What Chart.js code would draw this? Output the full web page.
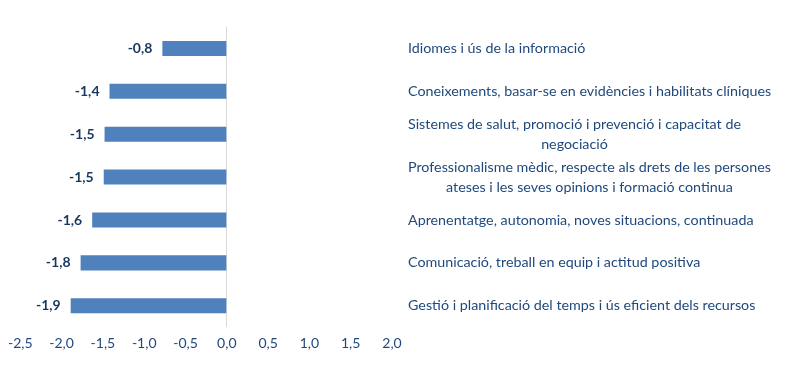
<!DOCTYPE html>
<html>
<head>
<meta charset="utf-8">
<script src="https://cdn.jsdelivr.net/npm/chart.js@4/dist/chart.umd.min.js"></script>
<style>
    body { margin: 0; background: #ffffff; }
    #wrap { width: 797px; height: 386px; }
</style>
</head>
<body>
<div id="wrap"><canvas id="chart" width="797" height="386"></canvas></div>
<script>
// Categories, top to bottom
var categories = [
    ["Idiomes i ús de la informació"],
    ["Coneixements, basar-se en evidències i habilitats clíniques"],
    ["Sistemes de salut, promoció i prevenció i capacitat de", "negociació"],
    ["Professionalisme mèdic, respecte als drets de les persones", "ateses i les seves opinions i formació continua"],
    ["Aprenentatge, autonomia, noves situacions, continuada"],
    ["Comunicació, treball en equip i actitud positiva"],
    ["Gestió i planificació del temps i ús eficient dels recursos"]
];

// Values
var values = [-0.78, -1.42, -1.48, -1.49, -1.63, -1.77, -1.89];

// X axis ticks
var xMin = -2.5;
var xMax = 2.0;
var xStep = 0.5;

var fontFamily = "Lato, 'Open Sans', sans-serif";

function formatComma(v)
{
    return v.toFixed(1).replace('.', ',');
}

// Draw value labels left of each bar
var valueLabels = {
    id: 'valueLabels',
    afterDatasetsDraw: function(chart) {
        var ctx = chart.ctx;
        var meta = chart.getDatasetMeta(0);
        ctx.save();
        ctx.font = "bold 14px " + fontFamily;
        ctx.fillStyle = "#17375e";
        ctx.textAlign = "right";
        ctx.textBaseline = "middle";
        meta.data.forEach(function(bar, i) {
            ctx.fillText(formatComma(values[i]), bar.x - 10, bar.y);
        });
        ctx.restore();
    }
};

// Draw category labels on the right, block left aligned, lines centered
var categoryLabels = {
    id: 'categoryLabels',
    afterDraw: function(chart) {
        var ctx = chart.ctx;
        var yScale = chart.scales.y;
        var left = chart.chartArea.right + 16;
        var lineHeight = 20;
        ctx.save();
        ctx.font = "14.3px " + fontFamily;
        ctx.fillStyle = "#1f497d";
        ctx.textAlign = "center";
        ctx.textBaseline = "middle";
        categories.forEach(function(lines, i) {
            var y = yScale.getPixelForValue(i);
            var widest = 0;
            lines.forEach(function(line) {
                widest = Math.max(widest, ctx.measureText(line).width);
            });
            var top = y - (lines.length - 1) * lineHeight / 2;
            lines.forEach(function(line, j) {
                ctx.fillText(line, left + widest / 2, top + j * lineHeight);
            });
        });
        ctx.restore();
    }
};

var ctx = document.getElementById("chart").getContext("2d");

var chart = new Chart(ctx, {
    type: 'bar',
    data: {
        labels: categories.map(function(c) { return c.join(" "); }),
        datasets: [
            {
                data: values,
                backgroundColor: '#4f81bd',
                borderWidth: 0,
                barPercentage: 0.35,
                categoryPercentage: 1.0
            }
        ]
    },
    options: {
        indexAxis: 'y',
        responsive: false,
        animation: false,
        layout: {
            padding: { left: 4, right: 405, top: 27, bottom: 26 }
        },
        plugins: {
            legend: { display: false },
            tooltip: { enabled: false }
        },
        scales: {
            x: {
                min: xMin,
                max: xMax,
                ticks: {
                    stepSize: xStep,
                    color: '#1f497d',
                    font: { family: fontFamily, size: 14 },
                    padding: 8,
                    callback: function(v) { return formatComma(v); }
                },
                grid: {
                    drawTicks: false,
                    color: function(c) {
                        return (c.tick && c.tick.value === 0) ? '#d9d9d9' : 'rgba(0,0,0,0)';
                    },
                    lineWidth: 1
                },
                border: { display: false }
            },
            y: {
                display: false
            }
        }
    },
    plugins: [valueLabels, categoryLabels]
});
</script>
</body>
</html>
